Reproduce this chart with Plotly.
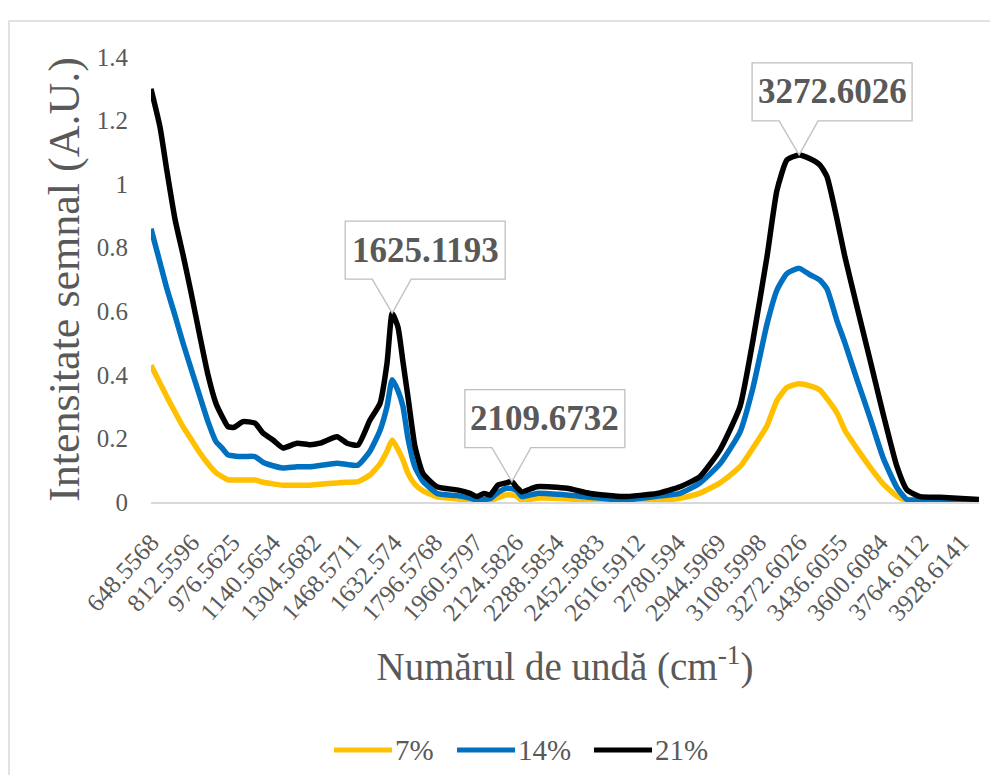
import plotly.graph_objects as go

# Wavenumbers (cm-1) of sampled points
wavenumber = [648.5568, 685.0, 713.3, 745.7, 778.1, 810.5, 846.9, 879.3, 911.7, 936.0,
              960.3, 984.6, 1021.0, 1069.6, 1102.0, 1142.5, 1183.0, 1239.7, 1292.3, 1332.8,
              1401.6, 1442.1, 1486.7, 1535.2, 1575.7, 1604.1, 1625.1193, 1648.6, 1668.9, 1689.1,
              1717.5, 1749.8, 1806.5, 1887.5, 1940.2, 1968.5, 1996.8, 2021.1, 2053.5, 2085.9,
              2109.6732, 2130.4, 2150.7, 2211.4, 2332.9, 2426.0, 2559.6, 2697.2, 2790.4, 2871.3,
              2952.3, 3033.3, 3086.0, 3142.7, 3183.1, 3223.6, 3272.6026, 3316.8, 3357.2, 3385.6,
              3426.0, 3458.4, 3507.0, 3559.7, 3612.3, 3669.0, 3709.5, 3762.1, 3843.1, 4001.0]

s7 = [0.43, 0.374, 0.33, 0.283, 0.237, 0.198, 0.154, 0.12, 0.092, 0.08,
      0.07, 0.069, 0.069, 0.069, 0.062, 0.057, 0.053, 0.053, 0.053, 0.056,
      0.06, 0.062, 0.064, 0.085, 0.12, 0.16, 0.195, 0.165, 0.132, 0.09,
      0.055, 0.035, 0.016, 0.01, 0.004, 0.002, 0.003, 0.004, 0.014, 0.022,
      0.022, 0.018, 0.005, 0.012, 0.01, 0.005, 0.001, 0.004, 0.012, 0.028,
      0.06, 0.111, 0.17, 0.24, 0.32, 0.36, 0.372, 0.365, 0.352, 0.325,
      0.28, 0.225, 0.168, 0.11, 0.058, 0.018, 0.005, 0.004, 0.004, 0.005]

s14 = [0.86, 0.753, 0.67, 0.587, 0.50, 0.42, 0.331, 0.253, 0.19, 0.17,
       0.148, 0.145, 0.143, 0.143, 0.125, 0.114, 0.107, 0.111, 0.111, 0.115,
       0.122, 0.118, 0.116, 0.16, 0.225, 0.30, 0.385, 0.35, 0.30, 0.20,
       0.11, 0.065, 0.027, 0.02, 0.012, 0.006, 0.008, 0.01, 0.03, 0.043,
       0.042, 0.035, 0.017, 0.027, 0.022, 0.015, 0.006, 0.018, 0.027, 0.06,
       0.12, 0.22, 0.36, 0.56, 0.667, 0.719, 0.735, 0.715, 0.698, 0.67,
       0.57, 0.50, 0.385, 0.265, 0.14, 0.045, 0.008, 0.006, 0.006, 0.005]

s21 = [1.30, 1.18, 1.04, 0.89, 0.778, 0.66, 0.52, 0.40, 0.31, 0.27,
       0.237, 0.235, 0.253, 0.248, 0.217, 0.195, 0.17, 0.185, 0.18, 0.185,
       0.205, 0.185, 0.179, 0.258, 0.31, 0.436, 0.594, 0.55, 0.44, 0.33,
       0.174, 0.09, 0.048, 0.038, 0.027, 0.017, 0.027, 0.022, 0.053, 0.06,
       0.064, 0.045, 0.032, 0.048, 0.043, 0.027, 0.017, 0.027, 0.048, 0.08,
       0.164, 0.30, 0.51, 0.772, 0.981, 1.076, 1.092, 1.08, 1.06, 1.023,
       0.89, 0.77, 0.614, 0.447, 0.279, 0.111, 0.038, 0.017, 0.015, 0.008]

series_names = ["7%", "14%", "21%"]
series_colors = ["#FFC000", "#0070C0", "#000000"]

tick_labels = ["648.5568", "812.5596", "976.5625", "1140.5654", "1304.5682", "1468.5711",
               "1632.574", "1796.5768", "1960.5797", "2124.5826", "2288.5854", "2452.5883",
               "2616.5912", "2780.594", "2944.5969", "3108.5998", "3272.6026", "3436.6055",
               "3600.6084", "3764.6112", "3928.6141"]

peak_labels = ["1625.1193", "2109.6732", "3272.6026"]

GRAY = "#595959"
SERIF = "Liberation Serif"

fig = go.Figure()
for name, vals, col in zip(series_names, [s7, s14, s21], series_colors):
    fig.add_trace(go.Scatter(x=wavenumber, y=vals, mode="lines", name=name, showlegend=False,
                             line=dict(color=col, width=5.5, shape="spline", smoothing=0.5)))

shapes = []
annotations = []
for lab in peak_labels:
    px = float(lab)
    idx = min(range(len(wavenumber)), key=lambda i: abs(wavenumber[i] - px))
    py = s21[idx]
    # callout outline (box + pointer) in pixel offsets from the peak point
    shapes.append(dict(type="path", xref="x", yref="y", xsizemode="pixel", ysizemode="pixel",
                       xanchor=px, yanchor=py,
                       path="M 0,0 L 19,34 L 113,34 L 113,92 L -47,92 L -47,34 L -20,34 Z",
                       fillcolor="white", line=dict(color="#BFBFBF", width=1.3), layer="above"))
    annotations.append(dict(x=px, y=py, xref="x", yref="y", text="<b>%s</b>" % lab,
                            showarrow=False, xanchor="center", yanchor="middle",
                            xshift=33, yshift=63,
                            font=dict(family=SERIF, size=35, color=GRAY)))

# legend drawn below the plot (line sample + label per series)
legend_line_x = [(0.2210, 0.2911), (0.3696, 0.4396), (0.5350, 0.6051)]
legend_y = -0.5573
for (x0, x1), name, col in zip(legend_line_x, series_names, series_colors):
    shapes.append(dict(type="line", xref="paper", yref="paper", x0=x0, x1=x1,
                       y0=legend_y, y1=legend_y, line=dict(color=col, width=5)))
    annotations.append(dict(x=x1 + 0.001, y=legend_y, xref="paper", yref="paper", text=name,
                            showarrow=False, xanchor="left", yanchor="middle",
                            font=dict(family=SERIF, size=29, color=GRAY)))

# chart-area border
shapes.append(dict(type="rect", xref="paper", yref="paper", x0=-0.1715, x1=1.04, y0=-0.7, y1=1.0809,
                   line=dict(color="#D9D9D9", width=1.5), fillcolor="rgba(0,0,0,0)", layer="below"))

# the page body adds an 8px offset; the figure is sized so the page fits 998x783
fig.update_layout(
    width=982, height=767,
    margin=dict(l=143, r=11, t=49, b=273, autoexpand=False),
    paper_bgcolor="white", plot_bgcolor="white",
    font=dict(family=SERIF, color=GRAY),
    shapes=shapes, annotations=annotations,
    showlegend=False,
    xaxis=dict(range=[648.5568, 4001.0], tickmode="array", automargin=False,
               tickvals=[float(t) for t in tick_labels], ticktext=tick_labels,
               tickangle=-48, tickfont=dict(family=SERIF, size=25, color=GRAY),
               ticklabelstandoff=14,
               showgrid=False, zeroline=False, showline=True, linecolor="#D9D9D9", linewidth=1.5,
               ticks="",
               title=dict(text="Numărul de undă (cm<sup>-1</sup>)", standoff=28,
                          font=dict(family=SERIF, size=39, color=GRAY))),
    yaxis=dict(range=[0, 1.4], tickvals=[0, 0.2, 0.4, 0.6, 0.8, 1, 1.2, 1.4], automargin=False,
               ticktext=["0", "0.2", "0.4", "0.6", "0.8", "1", "1.2", "1.4"],
               tickfont=dict(family=SERIF, size=25, color=GRAY), ticklabelstandoff=22,
               showgrid=False, zeroline=False, showline=False, ticks="",
               title=dict(text="Intensitate semnal (A.U.)", standoff=3,
                          font=dict(family=SERIF, size=44, color=GRAY))),
)

fig.write_html("out.html")
